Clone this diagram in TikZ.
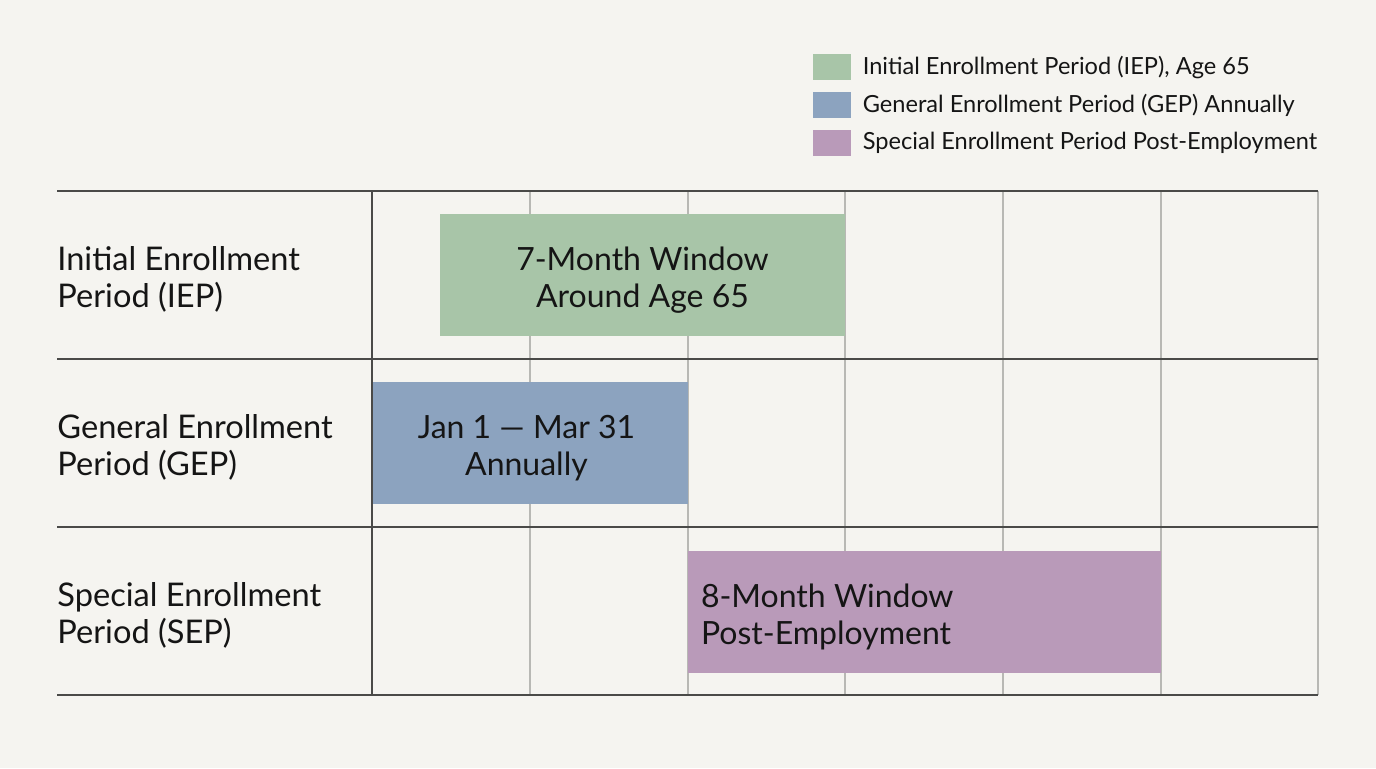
\documentclass[tikz,border=0pt]{standalone}
\usepackage{fontspec}
\setmainfont{Lato}
\usetikzlibrary{positioning}
\definecolor{bgpaper}{HTML}{F5F4F0}
\definecolor{iepgreen}{HTML}{A8C5A8}
\definecolor{gepblue}{HTML}{8CA3BF}
\definecolor{seppurple}{HTML}{B99AB9}
\definecolor{gridgray}{HTML}{B8B8B4}
\definecolor{rulegray}{HTML}{4A4A48}
\definecolor{inkblack}{HTML}{151515}
\tikzset{
  rowlabel/.style = {anchor=west, align=left, inner sep=0pt, text=inkblack,
    font=\fontsize{16.3}{18.5}\selectfont},% row headings
  bartext/.style = {align=center, inner sep=0pt, text=inkblack,
    font=\fontsize{16}{18.5}\selectfont},
  periodbar/.style = {rectangle, inner sep=0pt, draw=none, minimum height=61pt},
  legbox/.style = {rectangle, inner sep=0pt, minimum width=19pt,
    minimum height=13pt},% legend swatch
  legtext/.style = {anchor=west, inner sep=0pt, text=inkblack,
    font=\fontsize{11.8}{14}\selectfont},
  rowrule/.style = {draw=rulegray, line width=1pt},
  gridline/.style = {draw=gridgray, line width=0.7pt}
}

\begin{document}
\begin{tikzpicture}[x=0.5pt,y=-0.5pt]
\fill[bgpaper] (0,0) rectangle (1376,768);
\useasboundingbox (0,0) rectangle (1376,768);

% legend
\node [legbox, fill=iepgreen] (leg1) at (832,67) {};
\node [legbox, fill=gepblue] (leg2) at (832,105) {};
\node [legbox, fill=seppurple] (leg3) at (832,143) {};
\node [legtext, right=5.5pt of leg1] {Initial Enrollment Period (IEP), Age 65};
\node [legtext, right=5.5pt of leg2] {General Enrollment Period (GEP) Annually};
\node [legtext, right=5.5pt of leg3] {Special Enrollment Period Post-Employment};

% month grid
\foreach \gx in {530,688,845,1003,1161,1318}
  \draw [gridline] (\gx,191) -- (\gx,695);

% bars
\node [periodbar, fill=iepgreen, minimum width=202.5pt] (iepbar) at (642.5,275) {};
\node [periodbar, fill=gepblue, minimum width=157.5pt] (gepbar) at (530.5,443) {};
\node [periodbar, fill=seppurple, minimum width=236.5pt] (sepbar) at (924.5,612) {};
\node [bartext, yshift=-2.5pt] at (iepbar) {7-Month Window\\Around Age 65};
\node [bartext, yshift=-2.5pt, xshift=-2pt] at (gepbar) {Jan 1 --- Mar 31\\Annually};
\node [bartext, anchor=west, align=left, right=6.5pt of sepbar.west, yshift=-2.5pt]
  {8-Month Window\\Post-Employment};

% table rules
\foreach \ry in {191,359,527,695}
  \draw [rowrule] (57,\ry) -- (1318,\ry);
\draw [rowrule] (372,191) -- (372,695);

% row headings
\node [rowlabel] (iep) at (57,279) {Initial Enrollment\\Period (IEP)};
\node [rowlabel] (gep) at (57,447) {General Enrollment\\Period (GEP)};
\node [rowlabel] (sep) at (57,615) {Special Enrollment\\Period (SEP)};
\end{tikzpicture}
\end{document}
